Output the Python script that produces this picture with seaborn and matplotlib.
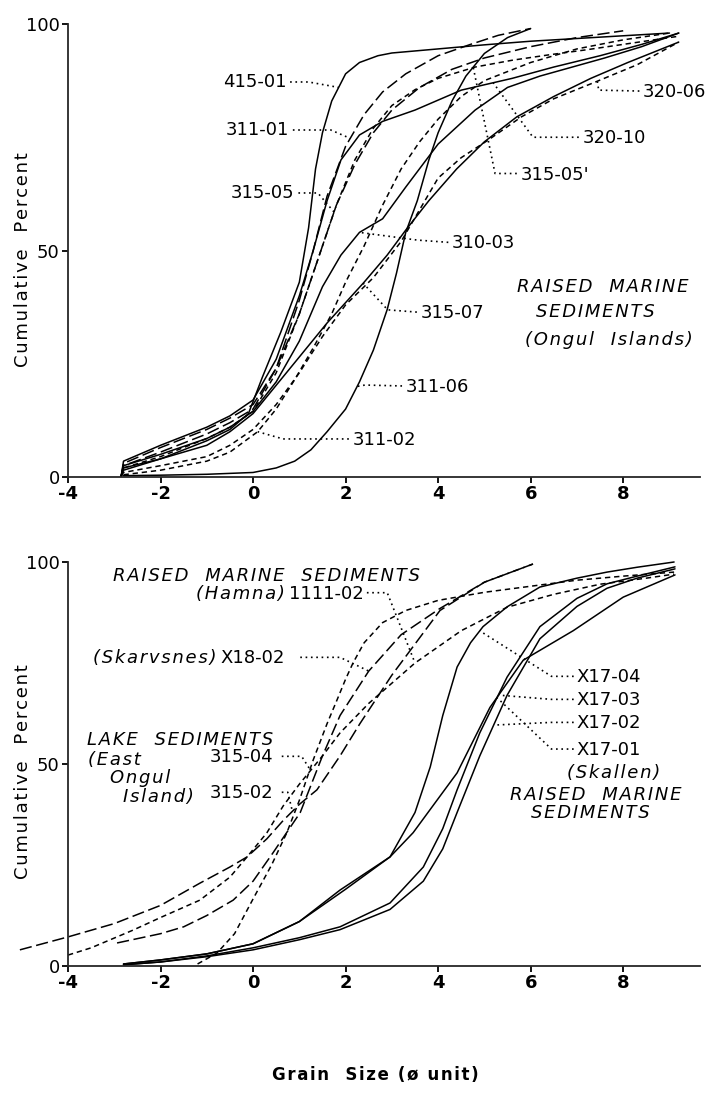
import numpy as np
import matplotlib
matplotlib.use("Agg")
import matplotlib.pyplot as plt
import seaborn as sns

# ---- upper panel: raised marine sediments (Ongul Islands) ----
x_415_01 = [-2.85, -2.8, -2.0, -1.0, -0.5, -0.1, 0.2, 0.6, 1.0, 1.2, 1.35, 1.5, 1.7, 2.0, 2.3, 2.7, 3.0, 4.0, 5.0, 6.0, 7.0, 8.0, 9.0]
y_415_01 = [0.2, 1.5, 4.0, 8.0, 10.5, 14.0, 22.0, 32.0, 43.0, 55.0, 68.0, 76.0, 83.0, 89.0, 91.5, 93.0, 93.6, 94.5, 95.4, 96.2, 96.8, 97.4, 98.0]

x_311_01 = [-2.85, -2.8, -2.0, -1.0, -0.5, 0.0, 0.5, 1.0, 1.3, 1.6, 2.0, 2.4, 2.8, 3.3, 4.0, 4.7, 5.3, 6.0]
y_311_01 = [0.2, 2.5, 5.5, 9.5, 12.0, 15.0, 24.0, 39.0, 50.0, 62.0, 73.0, 80.0, 85.0, 89.0, 93.0, 95.5, 97.5, 99.0]

x_315_05 = [-2.85, -2.8, -2.0, -1.0, -0.5, 0.0, 0.5, 1.0, 1.4, 1.8, 2.2, 2.6, 3.0, 3.6, 4.3, 5.0, 6.0, 7.0, 8.0]
y_315_05 = [0.2, 3.0, 6.5, 10.5, 13.0, 16.0, 24.0, 36.0, 48.0, 60.0, 69.0, 76.0, 81.0, 86.0, 90.0, 92.5, 95.0, 97.0, 98.5]

x_310_03 = [-2.85, -2.8, -2.0, -1.0, -0.5, 0.0, 0.5, 1.0, 1.5, 1.9, 2.3, 2.8, 3.3, 4.0, 4.8, 5.5, 6.2, 6.9, 7.6, 8.4, 9.2]
y_310_03 = [0.2, 2.5, 5.0, 8.5, 11.0, 14.5, 21.0, 30.0, 42.0, 49.0, 54.0, 57.0, 64.0, 73.5, 81.0, 86.0, 88.5, 90.5, 92.5, 95.0, 98.0]

x_315_07 = [-2.85, -2.8, -2.0, -1.0, -0.5, 0.0, 0.4, 0.8, 1.2, 1.6, 2.0, 2.4, 2.9, 3.3, 3.8, 4.4, 5.0, 5.7, 6.5, 7.3, 8.1, 9.2]
y_315_07 = [0.2, 2.0, 4.0, 7.0, 10.0, 14.0, 19.0, 24.0, 29.0, 34.0, 38.5, 43.0, 49.0, 54.5, 61.0, 68.0, 74.0, 79.5, 84.0, 88.0, 91.5, 96.0]

x_311_06 = [-2.8, -2.0, -1.0, 0.0, 0.5, 0.9, 1.25, 1.6, 2.0, 2.3, 2.6, 2.9, 3.1, 3.3, 3.55, 3.8, 4.0, 4.3, 4.6, 5.0, 5.5, 6.0]
y_311_06 = [0.3, 0.4, 0.6, 1.0, 2.0, 3.5, 6.0, 10.0, 15.0, 21.0, 28.0, 37.0, 45.0, 54.0, 61.0, 70.0, 76.0, 83.0, 88.5, 93.5, 97.0, 99.0]

x_311_02 = [-2.8, -2.0, -1.0, -0.5, 0.1, 0.5, 0.9, 1.3, 1.7, 2.0, 2.4, 2.8, 3.2, 3.6, 4.0, 4.5, 5.0, 6.0, 7.0, 8.0, 9.0]
y_311_02 = [0.5, 1.5, 3.5, 5.5, 10.0, 15.0, 21.5, 28.5, 36.0, 43.0, 51.0, 60.0, 68.0, 74.0, 79.0, 84.0, 87.5, 91.5, 94.5, 96.5, 98.0]

x_320_06 = [-2.85, -2.8, -2.0, -1.0, -0.5, 0.0, 0.5, 1.0, 1.5, 2.0, 2.6, 3.2, 3.6, 4.0, 4.5, 5.1, 5.8, 6.5, 7.4, 8.3, 9.2]
y_320_06 = [0.2, 1.0, 2.5, 4.5, 7.0, 10.5, 16.0, 23.0, 31.0, 38.0, 44.0, 52.0, 59.0, 66.0, 70.5, 74.5, 79.5, 83.5, 87.2, 91.0, 96.0]

x_320_10 = [-2.85, -2.8, -2.0, -1.0, -0.5, 0.0, 0.5, 1.0, 1.3, 1.6, 1.9, 2.3, 2.8, 3.5, 4.5, 5.6, 6.5, 7.5, 8.4, 9.2]
y_320_10 = [0.2, 3.5, 7.0, 11.0, 13.5, 17.0, 26.0, 40.0, 50.0, 61.0, 70.0, 75.5, 78.5, 81.0, 85.4, 88.0, 90.5, 93.0, 95.5, 98.0]

x_315_05p = [-2.85, -2.8, -2.0, -1.0, -0.5, 0.0, 0.5, 1.0, 1.4, 1.8, 2.2, 2.6, 3.0, 3.5, 4.0, 4.8, 5.6, 6.4, 7.2, 8.2, 9.2]
y_315_05p = [0.2, 2.0, 4.5, 8.5, 11.0, 14.5, 23.0, 36.0, 48.0, 60.0, 70.0, 77.0, 82.0, 85.5, 88.0, 90.5, 92.0, 93.2, 94.3, 95.8, 97.3]

# ---- lower panel ----
x_x17_04 = [-2.8, -2.0, -1.0, 0.0, 1.0, 2.0, 2.96, 3.5, 3.83, 4.1, 4.41, 4.7, 4.97, 5.49, 6.2, 7.0, 7.65, 8.3, 9.1]
y_x17_04 = [0.5, 1.5, 3.0, 5.5, 11.0, 19.0, 27.0, 38.0, 49.3, 62.0, 74.0, 80.0, 84.0, 88.9, 93.8, 96.0, 97.5, 98.7, 100.0]

x_x17_03 = [-2.8, -2.0, -1.0, 0.0, 1.0, 1.88, 2.96, 3.68, 4.1, 4.41, 4.9, 5.49, 6.2, 7.0, 7.65, 8.3, 9.12]
y_x17_03 = [0.3, 1.0, 2.5, 4.5, 7.0, 9.7, 15.6, 24.5, 34.0, 43.6, 57.7, 71.5, 84.0, 91.0, 94.6, 96.5, 98.8]

x_x17_02 = [-2.8, -2.0, -1.0, 0.0, 1.0, 1.88, 2.96, 3.68, 4.1, 4.41, 4.9, 5.49, 6.2, 7.0, 7.65, 8.3, 9.12]
y_x17_02 = [0.3, 1.0, 2.3, 4.0, 6.5, 9.0, 14.0, 21.0, 29.0, 38.0, 52.0, 67.0, 81.0, 89.0, 93.5, 96.0, 98.3]

x_x17_01 = [-2.8, -2.0, -1.0, 0.0, 1.0, 1.88, 2.96, 3.46, 4.41, 5.12, 5.84, 6.92, 8.0, 9.12]
y_x17_01 = [0.5, 1.5, 3.0, 5.5, 11.0, 18.8, 27.0, 33.0, 47.8, 64.0, 75.7, 83.0, 91.3, 96.8]

x_315_04 = [-1.2, -0.78, -0.4, 0.0, 0.4, 0.73, 1.0, 1.3, 1.6, 1.82, 2.0, 2.16, 2.4, 2.8, 3.3, 4.0, 5.0, 6.0, 7.0, 8.0, 9.1]
y_315_04 = [0.5, 3.2, 8.0, 16.6, 25.0, 33.0, 41.0, 51.0, 60.0, 66.0, 71.0, 75.0, 80.0, 85.0, 88.0, 90.5, 92.5, 94.0, 95.5, 96.5, 97.5]

x_1111_02 = [-4.0, -3.5, -2.59, -2.0, -1.15, -0.5, -0.13, 0.3, 0.65, 1.0, 1.5, 1.88, 2.5, 3.5, 4.5, 5.49, 6.5, 7.5, 8.5, 9.1]
y_1111_02 = [2.7, 4.5, 8.9, 12.0, 16.3, 22.0, 27.0, 33.0, 39.6, 45.0, 52.0, 57.7, 65.0, 75.0, 83.0, 88.8, 92.0, 94.5, 96.0, 97.0]

x_315_02 = [-5.04, -4.0, -3.0, -2.0, -1.15, -0.5, -0.13, 0.3, 0.65, 1.0, 1.38, 1.88, 2.31, 3.0, 4.04, 5.0, 6.05]
y_315_02 = [4.0, 7.2, 10.5, 15.0, 20.5, 24.5, 27.0, 31.5, 36.0, 40.0, 43.6, 52.0, 60.0, 72.0, 88.0, 95.0, 99.5]

x_x18_02 = [-2.94, -2.0, -1.5, -1.0, -0.43, 0.0, 0.43, 1.02, 1.5, 1.88, 2.5, 3.2, 4.04, 5.0, 6.05]
y_x18_02 = [5.7, 8.0, 9.7, 12.5, 16.3, 21.0, 28.0, 38.0, 52.0, 62.0, 73.0, 82.0, 88.5, 95.0, 99.5]

x_ticks = [-4, -2, 0, 2, 4, 6, 8]
y_ticks = [0, 50, 100]

SOLID = "-"
LONG = (0, (8, 3))
SHORT = (0, (3.5, 2.5))
DOT = (0, (1, 2.2))

top_curves = {
    "415-01": (x_415_01, y_415_01, SOLID),
    "311-01": (x_311_01, y_311_01, LONG),
    "315-05": (x_315_05, y_315_05, LONG),
    "310-03": (x_310_03, y_310_03, SOLID),
    "315-07": (x_315_07, y_315_07, SOLID),
    "311-06": (x_311_06, y_311_06, SOLID),
    "311-02": (x_311_02, y_311_02, SHORT),
    "320-06": (x_320_06, y_320_06, SHORT),
    "320-10": (x_320_10, y_320_10, SOLID),
    "315-05'": (x_315_05p, y_315_05p, SHORT),
}
bottom_curves = {
    "X17-04": (x_x17_04, y_x17_04, SOLID),
    "X17-03": (x_x17_03, y_x17_03, SOLID),
    "X17-02": (x_x17_02, y_x17_02, SOLID),
    "X17-01": (x_x17_01, y_x17_01, SOLID),
    "315-04": (x_315_04, y_315_04, SHORT),
    "1111-02": (x_1111_02, y_1111_02, SHORT),
    "315-02": (x_315_02, y_315_02, LONG),
    "X18-02": (x_x18_02, y_x18_02, LONG),
}

# label, text x, text y, ha, leader start, corner, target x on curve
top_labels = [
    ("415-01", 0.72, 87.2, "right", (0.80, 87.2), (1.2, 87.2), 1.85),
    ("311-01", 0.78, 76.6, "right", (0.86, 76.6), (1.68, 76.6), 2.1),
    ("315-05", 0.90, 62.7, "right", (0.98, 62.7), (1.40, 62.7), 1.75),
    ("310-03", 4.30, 51.6, "left", (4.22, 51.8), (3.55, 52.3), 2.3),
    ("315-07", 3.62, 36.2, "left", (3.54, 36.4), (2.91, 36.9), 2.38),
    ("311-06", 3.30, 19.9, "left", (3.22, 20.1), (2.42, 20.3), 2.25),
    ("311-02", 2.15, 8.2, "left", (2.07, 8.4), (0.65, 8.4), 0.1),
    ("320-06", 8.43, 85.0, "left", (8.35, 85.2), (7.47, 85.4), 7.44),
    ("320-10", 7.12, 74.8, "left", (7.04, 75.0), (6.05, 75.0), 5.19),
    ("315-05'", 5.78, 66.7, "left", (5.70, 67.0), (5.23, 67.0), 4.76),
]
bottom_labels = [
    ("X17-04", 7.0, 71.5, "left", (6.93, 71.7), (6.45, 71.7), 4.9),
    ("X17-03", 7.0, 65.8, "left", (6.93, 66.0), (6.45, 66.0), 5.3),
    ("X17-02", 7.0, 60.1, "left", (6.93, 60.3), (6.45, 60.3), 5.2),
    ("X17-01", 7.0, 53.5, "left", (6.93, 53.7), (6.45, 53.7), 5.27),
    ("X18-02", -0.71, 76.2, "left", (1.02, 76.4), (1.88, 76.4), 2.5),
    ("1111-02", 0.78, 92.2, "left", (2.46, 92.4), (2.9, 92.4), 3.5),
    ("315-04", -0.93, 51.7, "left", (0.62, 51.9), (1.05, 51.9), 1.23),
    ("315-02", -0.93, 42.8, "left", (0.62, 43.0), (0.75, 43.0), 0.85),
]


def spaced(s):
    # the scanned lettering is loosely tracked
    return "\u200a".join(s)


sns.set_style("ticks")
plt.rcParams["font.family"] = ["DejaVu Sans"]
plt.rcParams["axes.linewidth"] = 1.3
plt.rcParams["text.color"] = "black"
plt.rcParams["axes.labelcolor"] = "black"

fig = plt.figure(figsize=(7.13, 10.93), dpi=100)
ax1 = fig.add_axes([68 / 713, 1 - 477 / 1093, 632 / 713, 453 / 1093])
ax2 = fig.add_axes([68 / 713, 1 - 966 / 1093, 632 / 713, 404 / 1093])


def draw_panel(ax, curves, labels, lab_fs):
    for name, (xs, ys, ls) in curves.items():
        sns.lineplot(x=xs, y=ys, ax=ax, color="black", linewidth=1.1,
                     linestyle=ls, estimator=None, sort=False, clip_on=False)
    for name, tx, ty, ha, p0, p1, tgt in labels:
        xs, ys, _ = curves[name]
        end_y = np.interp(tgt, xs, ys)
        ax.plot([p0[0], p1[0], tgt], [p0[1], p1[1], end_y], color="black",
                linewidth=1.2, linestyle=DOT, clip_on=False)
        ax.text(tx, ty, name, ha=ha, va="center", fontsize=lab_fs, color="black")
    ax.set_xlim(-4, 9.66)
    ax.set_ylim(0, 100)
    ax.set_xticks(x_ticks)
    ax.set_yticks(y_ticks)
    ax.set_xticklabels([str(v) for v in x_ticks], fontweight="bold")
    ax.set_yticklabels([str(v) for v in y_ticks])
    ax.tick_params(axis="both", labelsize=13, length=4, width=1.3, pad=2,
                   direction="out", color="black", labelcolor="black")
    sns.despine(ax=ax)


draw_panel(ax1, top_curves, top_labels, 13)
draw_panel(ax2, bottom_curves, bottom_labels, 13)

ital = dict(style="italic", fontsize=13, ha="center", va="center", color="black")
side = dict(style="italic", fontsize=13, va="center", color="black")
ax1.text(7.55, 41.9, spaced("RAISED  MARINE"), **ital)
ax1.text(7.40, 36.4, spaced("SEDIMENTS"), **ital)
ax1.text(7.68, 30.2, spaced("(Ongul  Islands)"), **ital)

ax2.text(0.28, 96.6, spaced("RAISED  MARINE  SEDIMENTS"), **ital)
ax2.text(0.69, 92.2, spaced("(Hamna)"), ha="right", **side)
ax2.text(-0.78, 76.2, spaced("(Skarvsnes)"), ha="right", **side)
ax2.text(-3.59, 55.9, spaced("LAKE  SEDIMENTS"), ha="left", **side)
ax2.text(-3.57, 51.0, spaced("(East"), ha="left", **side)
ax2.text(-3.09, 46.5, spaced("Ongul"), ha="left", **side)
ax2.text(-2.81, 41.8, spaced("Island)"), ha="left", **side)
ax2.text(7.80, 47.8, spaced("(Skallen)"), **ital)
ax2.text(7.40, 42.3, spaced("RAISED  MARINE"), **ital)
ax2.text(7.30, 37.9, spaced("SEDIMENTS"), **ital)

fig.text(23 / 713, 1 - 260 / 1093, spaced("Cumulative  Percent"), rotation=90,
         ha="center", va="center", fontsize=13, color="black")
fig.text(23 / 713, 1 - 772 / 1093, spaced("Cumulative  Percent"), rotation=90,
         ha="center", va="center", fontsize=13, color="black")
fig.text(375 / 713, 1 - 1075 / 1093, spaced("Grain  Size (ø unit)"),
         ha="center", va="center", fontsize=12, fontweight="bold", color="black")

fig.savefig("out.png", dpi=100)
